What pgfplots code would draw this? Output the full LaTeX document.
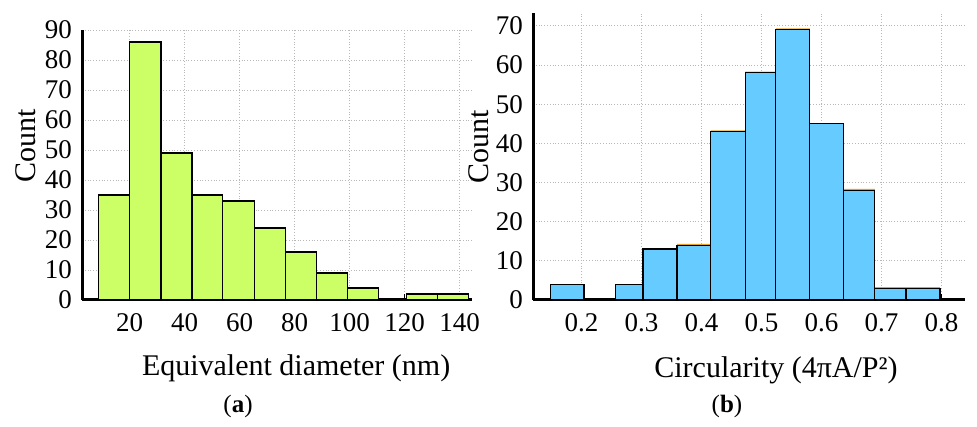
\documentclass[border=0pt]{standalone}
\usepackage{fontspec}
\setmainfont{Liberation Serif}
\usepackage{pgfplots}
\pgfplotsset{compat=1.18}
\definecolor{lime}{RGB}{204,255,102}
\definecolor{sky}{RGB}{102,204,255}
\definecolor{orng}{RGB}{230,160,40}
\pgfplotsset{
 mystyle/.style={
  scale only axis,
  axis x line*=bottom, axis y line*=left,
  axis line style={-, line width=1.5pt, black},
  grid=major, grid style={densely dotted, black!28, line width=0.5pt},
  tick align=inside, major tick length=3pt,
  xtick style={black, line width=0.6pt},
  ytick style={draw=none},
  tick label style={font=\fontsize{13.5}{16}\selectfont},
  label style={font=\fontsize{15}{18}\selectfont},
  /pgf/number format/assume math mode=true,
  xticklabel style={yshift=-3pt},
  yticklabel style={xshift=-1.5pt},
  ymin=0,
 }
}
\begin{document}
\begin{tikzpicture}
\path[use as bounding box] (0,0) rectangle (488.5pt,213.5pt);
\begin{axis}[mystyle,
  at={(41pt,63.5pt)}, anchor=south west,
  width=195pt, height=135pt,
  xmin=2.7, xmax=144.5, ymax=90,
  xtick={20,40,60,80,100,120,140},
  ytick={0,10,20,30,40,50,60,70,80,90},
  xlabel={Equivalent diameter (nm)},
  ylabel={Count},
  xlabel style={at={(axis description cs:0.549,0)}, anchor=base, yshift=-37.5pt},
  ylabel style={at={(axis description cs:-0.1205,0.571)}, anchor=base},
]
\addplot[ybar interval, fill=lime, draw=black, line width=0.6pt] coordinates {
(8.73,35) (20,86) (31.4,49) (42.7,35) (53.9,33) (65.3,24) (76.6,16) (87.9,9) (99.2,4) (110.5,0) (120.6,2) (132.0,2) (143.3,0)
};
\end{axis}
\begin{axis}[mystyle,
  at={(266.5pt,63.5pt)}, anchor=south west,
  width=216pt, height=143.5pt,
  xmin=0.119, xmax=0.839, ymax=73.3,
  xtick={0.2,0.3,0.4,0.5,0.6,0.7,0.8},
  ytick={0,10,20,30,40,50,60,70},
  xticklabel style={/pgf/number format/fixed, /pgf/number format/precision=1},
  xlabel={Circularity (4πA/P²)},
  ylabel={Count},
  xlabel style={at={(axis description cs:0.5625,0)}, anchor=base, yshift=-38.5pt},
  ylabel style={at={(axis description cs:-0.1019,0.533)}, anchor=base},
]
\addplot[ybar interval, fill=orng, draw=none] coordinates {
(0.1477,4) (0.2039,0) (0.2567,4) (0.3023,13) (0.3590,14.35) (0.4152,43.35) (0.4725,58.35) (0.5236,69.35) (0.5804,45) (0.6371,28.35) (0.6888,3.3) (0.7405,3.3) (0.7973,0)
};
\addplot[ybar interval, fill=sky, draw=black, line width=0.6pt] coordinates {
(0.1477,4) (0.2039,0) (0.2567,4) (0.3023,13) (0.3590,14) (0.4152,43) (0.4725,58) (0.5236,69) (0.5804,45) (0.6371,28) (0.6888,3) (0.7405,3) (0.7973,0)
};
\end{axis}
\node[anchor=base, font=\fontsize{12.5}{15}\selectfont] at (119pt,7pt) {(\textbf{a})};
\node[anchor=base, font=\fontsize{12.5}{15}\selectfont] at (363.5pt,7pt) {(\textbf{b})};
\end{tikzpicture}
\end{document}
